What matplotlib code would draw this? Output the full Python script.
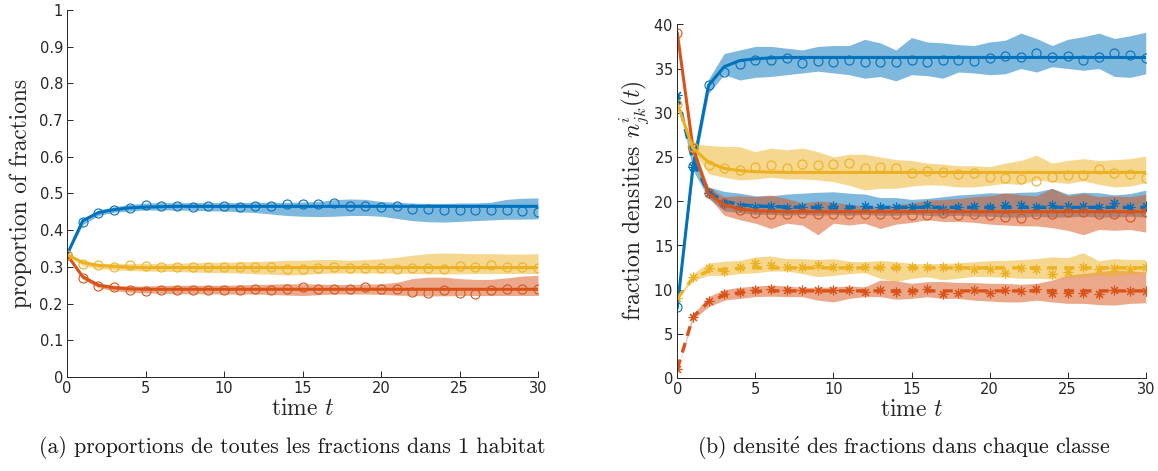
import matplotlib
matplotlib.use("Agg")
import matplotlib.pyplot as plt

plt.rcParams['mathtext.fontset'] = 'cm'
plt.rcParams['axes.formatter.use_mathtext'] = True

t = list(range(31))

# ---------------- panel (a): proportions ----------------
pa_blue_model = [0.333,0.426,0.448,0.456,0.461,0.463,0.464,0.465,0.465,0.465,0.465,0.465,0.465,0.465,0.465,0.465,
                 0.465,0.465,0.465,0.465,0.465,0.465,0.465,0.465,0.465,0.465,0.465,0.465,0.465,0.465,0.465]
pa_blue_data = [0.333,0.421,0.447,0.456,0.460,0.468,0.465,0.465,0.462,0.465,0.465,0.462,0.465,0.465,0.470,0.470,
                0.470,0.473,0.467,0.467,0.464,0.467,0.458,0.458,0.454,0.454,0.454,0.454,0.454,0.452,0.450]
pa_blue_lo = [0.333,0.415,0.440,0.449,0.452,0.455,0.455,0.455,0.454,0.453,0.452,0.450,0.448,0.444,0.440,0.438,
              0.437,0.438,0.440,0.440,0.438,0.432,0.426,0.423,0.422,0.424,0.426,0.428,0.430,0.430,0.431]
pa_blue_hi = [0.333,0.428,0.455,0.464,0.470,0.474,0.475,0.475,0.475,0.475,0.475,0.475,0.476,0.476,0.476,0.477,
              0.478,0.483,0.485,0.484,0.478,0.476,0.474,0.473,0.473,0.474,0.474,0.476,0.484,0.487,0.488]

pa_red_model = [0.333,0.273,0.250,0.243,0.240,0.239,0.239,0.239,0.239,0.239,0.239,0.239,0.239,0.239,0.239,0.239,
                0.239,0.239,0.239,0.239,0.239,0.239,0.239,0.239,0.239,0.239,0.239,0.239,0.239,0.239,0.239]
pa_red_data = [0.333,0.271,0.249,0.244,0.236,0.233,0.238,0.238,0.238,0.238,0.238,0.238,0.241,0.238,0.241,0.244,
               0.239,0.241,0.241,0.244,0.241,0.241,0.232,0.229,0.236,0.229,0.227,0.236,0.241,0.241,0.241]
pa_red_lo = [0.333,0.266,0.243,0.235,0.231,0.229,0.228,0.227,0.227,0.227,0.226,0.226,0.226,0.225,0.223,0.222,
             0.224,0.226,0.226,0.226,0.225,0.223,0.222,0.221,0.221,0.222,0.222,0.222,0.222,0.222,0.222]
pa_red_hi = [0.333,0.278,0.256,0.250,0.248,0.248,0.249,0.250,0.250,0.250,0.250,0.251,0.252,0.253,0.254,0.254,
             0.253,0.252,0.252,0.253,0.254,0.258,0.268,0.272,0.272,0.268,0.266,0.266,0.270,0.275,0.277]

pa_yel_model = [0.333,0.312,0.304,0.301,0.299,0.298,0.298,0.298,0.298,0.298,0.298,0.298,0.298,0.298,0.298,0.298,
                0.298,0.298,0.298,0.298,0.298,0.298,0.298,0.298,0.298,0.298,0.298,0.298,0.298,0.298,0.298]
pa_yel_data = [0.333,0.308,0.304,0.301,0.304,0.302,0.300,0.300,0.299,0.300,0.300,0.299,0.300,0.300,0.295,0.295,
               0.297,0.300,0.297,0.297,0.298,0.295,0.298,0.298,0.295,0.303,0.300,0.304,0.300,0.300,0.298]
pa_yel_lo = [0.333,0.303,0.296,0.292,0.290,0.289,0.288,0.287,0.286,0.285,0.284,0.283,0.281,0.280,0.278,0.279,
             0.282,0.283,0.283,0.283,0.283,0.283,0.282,0.281,0.281,0.281,0.282,0.282,0.282,0.282,0.282]
pa_yel_hi = [0.333,0.313,0.310,0.309,0.309,0.309,0.309,0.310,0.311,0.312,0.313,0.314,0.315,0.316,0.318,0.318,
             0.320,0.320,0.318,0.320,0.322,0.326,0.332,0.336,0.338,0.337,0.336,0.336,0.335,0.335,0.336]

# ---------------- panel (b): densities ----------------
pb_blue_model = [8.0,23.8,33.1,35.2,35.9,36.1,36.2,36.25,36.25,36.25,36.25,36.25,36.25,36.25,36.25,36.25,
                 36.25,36.25,36.25,36.25,36.25,36.25,36.25,36.25,36.25,36.25,36.25,36.25,36.25,36.25,36.25]
pb_blue_data = [8.0,24.0,33.1,34.6,35.5,36.0,36.0,36.2,35.6,35.8,35.7,36.0,35.7,35.7,35.7,36.0,
                35.7,36.0,36.0,35.9,36.2,36.4,36.3,36.8,36.3,36.4,36.0,36.3,36.7,36.5,36.2]
pb_blue_lo = [8.0,23.0,32.2,34.3,33.7,34.0,34.1,34.3,34.5,34.7,34.5,34.3,33.9,34.1,33.6,34.3,
              34.2,33.9,34.6,34.5,34.3,34.4,35.0,34.6,35.2,35.0,34.8,35.0,34.1,34.0,34.4]
pb_blue_hi = [8.0,25.0,33.8,36.7,37.1,37.5,37.5,37.3,37.1,37.5,37.6,37.6,38.3,37.9,37.1,38.5,
              38.0,37.9,37.7,37.6,38.0,38.2,39.0,38.4,37.6,38.3,38.6,39.0,38.4,38.7,39.1]

pb_blue2_model = [32.0,24.5,21.0,20.0,19.6,19.45,19.4,19.35,19.3,19.3,19.3,19.3,19.3,19.3,19.3,19.3,
                  19.3,19.3,19.3,19.3,19.3,19.3,19.3,19.3,19.3,19.3,19.3,19.3,19.3,19.3,19.3]
pb_blue2_data = [32.0,23.9,20.9,19.8,19.5,19.3,19.5,19.2,19.3,19.3,19.4,19.2,19.4,19.3,19.3,19.3,
                 19.6,19.1,19.3,19.4,19.3,19.6,19.6,19.3,19.6,19.5,19.4,19.3,19.8,19.3,19.4]
pb_blue2_lo = [32.0,23.5,20.3,18.9,18.7,18.5,18.5,18.4,18.5,18.4,18.5,18.4,18.5,18.4,18.4,18.5,
               18.4,18.3,18.4,18.3,18.3,18.2,18.2,18.3,18.2,18.2,18.3,18.2,18.2,18.3,18.2]
pb_blue2_hi = [32.0,24.8,21.6,21.1,20.9,20.6,20.6,20.8,20.9,21.0,21.06,20.9,20.8,20.4,20.4,20.2,
               20.3,20.5,20.7,20.8,20.95,20.9,21.0,21.05,21.45,20.8,21.0,20.95,20.7,20.85,21.25]

pb_red_model = [39.0,26.0,20.8,19.6,19.1,18.9,18.85,18.8,18.8,18.8,18.8,18.8,18.8,18.8,18.8,18.8,
                18.8,18.8,18.8,18.8,18.8,18.8,18.8,18.8,18.8,18.8,18.8,18.8,18.8,18.8,18.8]
pb_red_data = [39.0,26.0,20.9,19.8,19.0,18.7,18.6,18.6,18.7,18.6,18.6,18.6,18.6,18.6,18.55,18.4,
               18.4,18.7,18.4,18.6,18.4,18.17,18.06,18.6,18.6,18.8,18.8,18.6,18.6,18.24,18.8]
pb_red_lo = [39.0,25.5,20.5,18.4,17.9,17.5,16.9,17.5,17.3,16.2,17.5,17.3,17.5,16.9,17.4,17.6,
             17.9,17.7,17.7,17.6,17.4,17.3,17.2,17.2,17.0,16.7,16.2,16.8,16.7,16.8,16.5]
pb_red_hi = [39.0,26.5,21.5,20.5,20.6,20.5,20.7,20.3,19.8,20.0,19.9,19.6,19.5,19.4,19.6,19.8,
             20.1,20.2,20.3,20.5,20.6,20.95,20.7,20.6,21.45,20.6,20.9,20.5,20.6,20.5,20.8]

pb_red2_model = [1.0,6.9,8.6,9.35,9.65,9.8,9.85,9.85,9.85,9.85,9.85,9.85,9.85,9.85,9.85,9.85,
                 9.85,9.85,9.85,9.85,9.85,9.85,9.85,9.85,9.85,9.85,9.85,9.85,9.85,9.85,9.85]
pb_red2_data = [1.0,6.9,8.7,9.5,9.7,9.9,10.1,10.0,9.9,9.9,10.0,9.9,9.75,9.9,9.75,9.86,
                10.1,9.5,9.64,10.0,9.6,10.0,9.86,10.06,9.64,9.6,9.64,9.5,10.0,9.86,9.86]
pb_red2_lo = [1.0,6.6,8.05,8.8,9.0,9.2,9.25,9.2,9.2,8.8,8.6,9.0,9.2,9.2,8.9,9.0,
              9.19,9.0,9.0,8.8,8.7,8.6,8.6,8.8,8.6,8.44,8.44,8.3,8.25,8.44,8.5]
pb_red2_hi = [1.0,7.2,9.2,10.0,10.25,10.4,10.5,10.4,10.25,10.25,10.3,10.4,10.3,11.07,11.0,10.7,
              10.9,10.9,10.8,10.8,10.7,10.7,10.6,10.7,11.07,11.64,11.83,12.0,12.2,12.1,12.0]

pb_yel_model = [31.0,26.0,24.4,23.7,23.45,23.33,23.28,23.25,23.25,23.25,23.25,23.25,23.25,23.25,23.25,23.25,
                23.25,23.25,23.25,23.25,23.25,23.25,23.25,23.25,23.25,23.25,23.25,23.25,23.25,23.25,23.25]
pb_yel_data = [31.0,26.15,24.1,23.7,23.5,23.9,24.1,23.8,24.15,24.1,24.15,24.27,23.8,23.9,23.7,23.2,
               23.4,23.33,23.03,23.15,22.76,22.58,22.5,22.27,22.7,22.95,22.9,23.63,23.15,23.03,22.65]
pb_yel_lo = [31.0,25.8,23.1,22.7,22.4,22.5,22.7,22.5,22.5,22.4,22.2,21.8,21.26,21.45,21.45,21.7,
             21.85,21.8,21.6,21.6,21.8,22.0,21.9,22.4,22.2,22.0,22.3,21.9,21.6,21.7,22.1]
pb_yel_hi = [31.0,26.5,26.3,26.2,26.15,25.6,26.0,25.8,26.0,25.6,25.0,25.3,25.3,25.0,24.7,24.6,
             24.3,24.2,24.0,24.0,23.9,24.3,24.6,25.2,24.3,24.6,24.8,24.6,24.7,24.8,25.1]

pb_yel2_model = [9.0,11.3,12.1,12.3,12.4,12.45,12.45,12.45,12.45,12.45,12.45,12.45,12.45,12.45,12.45,12.45,
                 12.45,12.45,12.45,12.45,12.45,12.45,12.45,12.45,12.45,12.45,12.45,12.45,12.45,12.45,12.45]
pb_yel2_data = [9.0,11.4,12.4,12.13,12.58,12.96,12.8,12.5,12.6,12.8,12.6,12.5,12.6,12.5,12.58,12.58,
                12.58,12.5,12.6,12.3,12.3,11.9,12.4,12.3,11.8,12.0,12.58,12.3,12.4,12.3,12.58]
pb_yel2_lo = [9.0,11.0,11.6,11.6,11.8,11.9,12.1,12.1,11.8,11.45,11.6,11.8,11.9,11.27,10.9,11.27,
              11.45,11.1,11.27,11.5,11.45,11.4,11.27,11.27,11.2,11.4,11.45,11.6,11.5,11.8,11.75]
pb_yel2_hi = [9.0,11.8,13.0,13.2,13.3,13.7,13.8,13.5,13.5,13.4,13.5,13.2,13.15,13.3,13.15,12.96,
              12.9,12.96,13.03,13.15,13.26,13.3,13.4,13.5,13.7,13.6,14.16,13.26,13.5,13.4,13.4]

xticks = [0, 5, 10, 15, 20, 25, 30]
yticks_a = [0, 0.1, 0.2, 0.3, 0.4, 0.5, 0.6, 0.7, 0.8, 0.9, 1]
yticklabels_a = ["0", "0.1", "0.2", "0.3", "0.4", "0.5", "0.6", "0.7", "0.8", "0.9", "1"]
yticks_b = [0, 5, 10, 15, 20, 25, 30, 35, 40]

BLUE = "#0072BD"
RED = "#D95319"
YEL = "#EDB120"
AX = "#262626"
SERIF = ['cmr10', 'DejaVu Serif']
ASTER = (8, 2, 0)

fig = plt.figure(figsize=(11.58, 4.71), dpi=100)
axa = fig.add_axes([0.0579, 0.1996, 0.4067, 0.7792])
axb = fig.add_axes([0.5849, 0.1975, 0.4045, 0.7509])


def style(ax, ylim, yt, ytl=None):
    ax.set_xlim(0, 30)
    ax.set_ylim(*ylim)
    ax.set_xticks(xticks)
    ax.set_xticklabels([str(v) for v in xticks])
    ax.set_yticks(yt)
    if ytl is not None:
        ax.set_yticklabels(ytl)
    for s in ['top', 'right']:
        ax.spines[s].set_visible(False)
    for s in ['left', 'bottom']:
        ax.spines[s].set_color(AX)
        ax.spines[s].set_linewidth(0.7)
    ax.tick_params(direction='in', length=4, width=0.7, color=AX,
                   labelcolor=AX, labelsize=10.5, pad=3)
    for lab in ax.get_xticklabels() + ax.get_yticklabels():
        lab.set_family('DejaVu Sans')


def band(ax, lo, hi, c):
    ax.fill_between(t, lo, hi, color=c, alpha=0.5, linewidth=0)


def model(ax, y, c, ls='-'):
    if ls == '-':
        ax.plot(t, y, color=c, lw=2.2, ls='-')
    else:
        ax.plot(t, y, color=c, lw=2.4, ls=(0, (3, 2.2)))


def data(ax, y, c, m):
    if m == 'o':
        ax.plot(t, y, ls='none', marker='o', mfc='none', mec=c, ms=6.5, mew=0.8)
    else:
        ax.plot(t, y, ls='none', marker=ASTER, mfc='none', mec=c, ms=7, mew=0.8)


# panel (a)
for lo, hi, m_, d_, c in [(pa_blue_lo, pa_blue_hi, pa_blue_model, pa_blue_data, BLUE),
                          (pa_red_lo, pa_red_hi, pa_red_model, pa_red_data, RED),
                          (pa_yel_lo, pa_yel_hi, pa_yel_model, pa_yel_data, YEL)]:
    band(axa, lo, hi, c)
    model(axa, m_, c)
    data(axa, d_, c, 'o')

style(axa, (0, 1), yticks_a, yticklabels_a)
axa.set_xlabel("time $t$", family=SERIF, fontsize=17, color=AX, labelpad=1)
axa.set_ylabel("proportion of fractions", family=SERIF, fontsize=16.8, color=AX, labelpad=5)

# panel (b)
groups = [
    (BLUE, (pb_blue_lo, pb_blue_hi, pb_blue_model, pb_blue_data),
           (pb_blue2_lo, pb_blue2_hi, pb_blue2_model, pb_blue2_data)),
    (RED, (pb_red_lo, pb_red_hi, pb_red_model, pb_red_data),
          (pb_red2_lo, pb_red2_hi, pb_red2_model, pb_red2_data)),
    (YEL, (pb_yel_lo, pb_yel_hi, pb_yel_model, pb_yel_data),
          (pb_yel2_lo, pb_yel2_hi, pb_yel2_model, pb_yel2_data)),
]
for c, solid, dashed in groups:
    band(axb, solid[0], solid[1], c)
    band(axb, dashed[0], dashed[1], c)
    model(axb, dashed[2], c, '--')
    data(axb, dashed[3], c, '*')
    model(axb, solid[2], c, '-')
    data(axb, solid[3], c, 'o')

style(axb, (0, 40), yticks_b)
axb.set_xlabel("time $t$", family=SERIF, fontsize=17, color=AX, labelpad=1)
axb.set_ylabel("fraction densities $n^i_{jk}(t)$", family=SERIF, fontsize=17, color=AX, labelpad=2)

fig.text(0.252, 0.049, "(a) proportions de toutes les fractions dans 1 habitat",
         family=SERIF, fontsize=15.8, color='#1a1a1a', ha='center', va='center')
fig.text(0.780, 0.049,
         r"$\mathrm{(b)\ densit\acute{e}\ des\ fractions\ dans\ chaque\ classe}$",
         fontsize=15.8, color='#1a1a1a', ha='center', va='center')

fig.savefig("out.png", dpi=100)
